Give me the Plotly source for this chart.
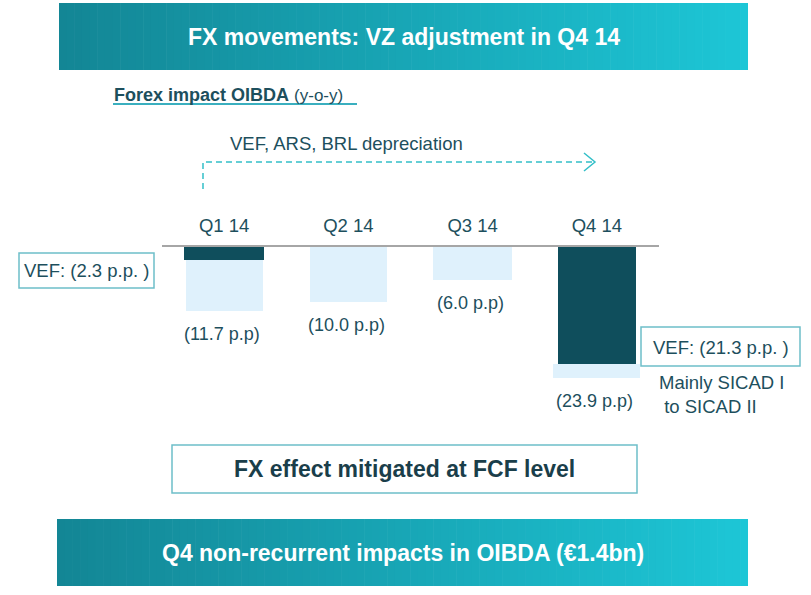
import plotly.graph_objects as go

# ---------------- data ----------------
quarters = ["Q1 14", "Q2 14", "Q3 14", "Q4 14"]
total_impact = [11.7, 10.0, 6.0, 23.9]      # FX impact on OIBDA, p.p. (negative)
vef_impact = [2.3, 0.0, 0.0, 21.3]          # of which VEF, p.p.
other_impact = [round(t - v, 1) for t, v in zip(total_impact, vef_impact)]
bar_labels = ["(11.7 p.p)", "(10.0 p.p)", "(6.0 p.p)", "(23.9 p.p)"]
vef_box_labels = ["VEF: (2.3 p.p. )", "VEF: (21.3 p.p. )"]

# ---------------- style ----------------
W, H = 811, 595
FONT = "Liberation Sans, Arial, sans-serif"
TXT = "#1D4F5D"
DARK = "#0F4E5C"
LIGHT = "#DFF1FC"
BORDER = "#6DBFC9"
ARROW = "#33BFC8"


def px(x):
    return x / W


def py(y):
    return 1 - y / H


fig = go.Figure()

fig.add_trace(go.Bar(
    x=quarters, y=[-v for v in vef_impact], name="VEF",
    marker=dict(color=DARK, line=dict(width=0)),
    width=[0.64, 0.62, 0.62, 0.63], hoverinfo="skip",
))
fig.add_trace(go.Bar(
    x=quarters, y=[-o for o in other_impact], name="Other",
    marker=dict(color=LIGHT, line=dict(width=0)),
    width=[0.62, 0.62, 0.63, 0.70], hoverinfo="skip",
))

annotations = []
for q, t, lab in zip(quarters, total_impact, bar_labels):
    annotations.append(dict(
        x=q, y=-t, xref="x", yref="y", text=lab, showarrow=False,
        yanchor="middle", yshift=-23, xshift=-2,
        font=dict(size=18, color=TXT, family=FONT),
    ))

shapes = []


def gradient_banner(x0, x1, y0, y1, c0, c1, n=90):
    for i in range(n):
        f = i / (n - 1)
        col = "rgb(%d,%d,%d)" % tuple(round(a + (b - a) * f) for a, b in zip(c0, c1))
        xa = x0 + (x1 - x0) * i / n
        xb = x0 + (x1 - x0) * (i + 1) / n + 0.6
        shapes.append(dict(type="rect", xref="paper", yref="paper",
                           x0=px(xa), x1=px(min(xb, x1)), y0=py(y1), y1=py(y0),
                           fillcolor=col, line=dict(width=0), layer="below"))


gradient_banner(59, 748, 3, 70, (19, 134, 149), (29, 198, 214))
gradient_banner(57, 748, 519, 586, (19, 134, 149), (29, 198, 214))


def box(x0, x1, y0, y1):
    shapes.append(dict(type="rect", xref="paper", yref="paper",
                       x0=px(x0), x1=px(x1), y0=py(y1), y1=py(y0),
                       line=dict(color=BORDER, width=1.5), fillcolor="rgba(0,0,0,0)"))


box(19, 154, 253, 288)
box(641, 800, 327, 366)
box(172, 637, 445, 493)

# underline of subtitle
shapes.append(dict(type="line", xref="paper", yref="paper",
                   x0=px(113), x1=px(357), y0=py(104), y1=py(104),
                   line=dict(color="#3AAFBF", width=2)))

# dashed arrow
shapes.append(dict(type="path", xref="paper", yref="paper",
                   path="M %f,%f L %f,%f L %f,%f" % (px(203), py(189), px(203), py(162), px(592), py(162)),
                   line=dict(color=ARROW, width=1.5, dash="6px,4px")))
shapes.append(dict(type="path", xref="paper", yref="paper",
                   path="M %f,%f L %f,%f L %f,%f" % (px(584), py(153), px(595), py(162), px(584), py(171)),
                   line=dict(color=ARROW, width=1.5)))


def text(x, y, s, size=18, color=TXT, xanchor="center", align="center"):
    annotations.append(dict(x=px(x), y=py(y), xref="paper", yref="paper", text=s,
                            showarrow=False, xanchor=xanchor, yanchor="middle", align=align,
                            font=dict(size=size, color=color, family=FONT)))


text(403.5, 37, "<b>FX movements: VZ adjustment in Q4 14</b>", size=23, color="white")
text(112, 95, "<b>Forex impact OIBDA</b> <span style='font-size:17px'>(y-o-y)</span>", size=18, xanchor="left")
text(228, 143, "VEF, ARS, BRL depreciation", size=18.5, xanchor="left")
text(86.5, 270.5, vef_box_labels[0], size=18.5)
text(720.5, 347, vef_box_labels[1], size=18.5)
text(657, 394, "Mainly SICAD I<br>\u00a0to SICAD II", size=18.5, xanchor="left", align="left")
text(404.5, 469, "<b>FX effect mitigated at FCF level</b>", size=23, color="#1A3E4A")
text(402.5, 552.5, "<b>Q4 non-recurrent impacts in OIBDA (€1.4bn)</b>", size=23, color="white")

fig.update_layout(
    width=W, height=H, margin=dict(l=0, r=0, t=0, b=0),
    paper_bgcolor="white", plot_bgcolor="white",
    barmode="relative", bargap=0, showlegend=False,
    font=dict(family=FONT, color=TXT),
    xaxis=dict(domain=[px(162), px(659)], range=[-0.5, 3.5], side="top",
               showline=True, linecolor="#A6A6A6", linewidth=1.5,
               showgrid=False, zeroline=False, ticks="", ticklabelstandoff=6,
               tickfont=dict(size=18.5, color=TXT, family=FONT), fixedrange=True),
    yaxis=dict(domain=[py(412), py(247)], range=[-30, 0], visible=False,
               showgrid=False, zeroline=False, fixedrange=True),
    shapes=shapes, annotations=annotations,
)

fig.write_html("out.html", post_script="document.body.style.margin='0';",
               config={"displayModeBar": False})
